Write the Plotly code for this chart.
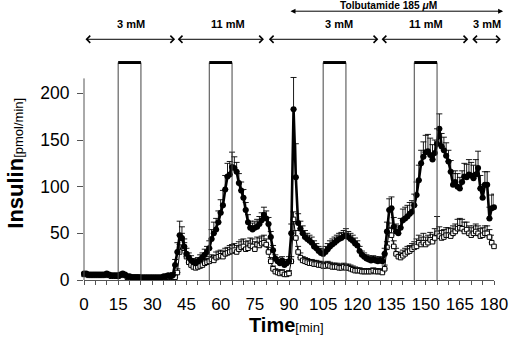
import plotly.graph_objects as go

# ---------------- data ----------------
time_min = list(range(0, 181))

filled_vals = [
    7, 7, 6, 6, 6, 6, 6, 6, 6, 6,
    7, 6, 5, 5, 5, 5, 6, 7, 6, 4,
    4, 3, 3, 3, 3, 3, 3, 3, 3, 3,
    3, 3, 3, 3, 3, 4, 4, 5, 4, 5,
    16, 30, 48, 45, 36, 28, 24, 21, 19, 18,
    20, 22, 24, 27, 30, 34, 44, 50, 54, 62,
    72, 80, 97, 111, 113, 121, 120, 116, 104, 96,
    88, 75, 62, 56, 54, 56, 57, 60, 64, 70,
    66, 60, 46, 32, 23, 20, 18, 21, 16, 18,
    20, 50, 183, 110, 61, 55, 50, 46, 44, 42,
    40, 36, 34, 31, 29, 28, 30, 33, 36, 38,
    40, 42, 44, 45, 47, 48, 46, 44, 42, 39,
    37, 31, 27, 25, 23, 22, 21, 22, 21, 20,
    21, 20, 28, 52, 75, 77, 57, 52, 50, 56,
    64, 66, 68, 71, 73, 80, 91, 107, 125, 132,
    137, 138, 134, 129, 136, 146, 162, 143, 139, 133,
    127, 116, 102, 105, 100, 98, 105, 111, 110, 113,
    112, 109, 113, 120, 98, 88, 102, 102, 66, 77,
    78,
]
filled_err = [
    1, 1, 1, 1, 1, 1, 1, 1, 1, 1,
    1, 1, 1, 1, 1, 1, 1, 1, 1, 1,
    1, 1, 1, 1, 1, 1, 1, 1, 1, 1,
    1, 1, 1, 1, 1, 1, 1, 2, 2, 3,
    6, 10, 15, 12, 8, 6, 5, 5, 4, 4,
    4, 5, 5, 6, 6, 8, 10, 12, 12, 12,
    14, 16, 15, 14, 14, 16, 12, 10, 10, 9,
    9, 8, 8, 7, 7, 7, 8, 8, 8, 8,
    8, 7, 6, 5, 4, 4, 4, 4, 4, 4,
    5, 10, 34, 36, 10, 8, 8, 7, 6, 6,
    6, 6, 5, 5, 5, 5, 6, 6, 6, 6,
    6, 6, 6, 6, 6, 7, 6, 6, 6, 6,
    5, 5, 4, 4, 4, 4, 4, 4, 4, 4,
    4, 4, 6, 10, 12, 12, 10, 8, 8, 10,
    12, 12, 12, 12, 12, 12, 14, 16, 14, 16,
    18, 18, 18, 16, 14, 16, 16, 14, 14, 14,
    12, 12, 12, 12, 14, 12, 12, 14, 14, 16,
    14, 14, 16, 18, 14, 14, 14, 14, 12, 14,
    14,
]
open_vals = [
    6, 6, 5, 5, 5, 5, 5, 5, 5, 5,
    6, 5, 4, 4, 4, 4, 5, 6, 5, 3,
    3, 3, 3, 3, 3, 2, 2, 2, 2, 2,
    2, 2, 2, 2, 2, 3, 3, 3, 3, 3,
    3, 8, 30, 40, 34, 25, 19, 16, 14, 13,
    14, 15, 16, 18, 19, 20, 22, 21, 24, 25,
    26, 25, 28, 29, 30, 31, 32, 30, 33, 35,
    36, 33, 34, 37, 36, 33, 38, 37, 39, 40,
    38, 30, 20, 12, 9, 8, 7, 8, 6, 6,
    7, 20, 65, 45, 30, 24, 21, 20, 19, 18,
    18, 17, 17, 16, 16, 15, 15, 16, 15, 14,
    14, 14, 13, 13, 14, 13, 13, 12, 11, 10,
    10, 10, 9, 9, 9, 9, 9, 10, 9, 9,
    9, 8, 12, 35, 53, 48, 36, 28, 25, 24,
    26, 28, 30, 31, 33, 35, 36, 40, 38, 40,
    38, 40, 43, 41, 45, 50, 47, 45, 46, 48,
    48, 47, 50, 52, 55, 56, 55, 52, 54, 50,
    48, 50, 52, 50, 47, 48, 50, 50, 46, 40,
    36,
]
open_err = [
    1, 1, 1, 1, 1, 1, 1, 1, 1, 1,
    1, 1, 1, 1, 1, 1, 1, 1, 1, 1,
    1, 1, 1, 1, 1, 1, 1, 1, 1, 1,
    1, 1, 1, 1, 1, 1, 1, 1, 1, 1,
    2, 4, 8, 10, 6, 4, 4, 3, 3, 3,
    3, 3, 4, 4, 4, 5, 5, 5, 6, 6,
    6, 6, 6, 6, 7, 7, 7, 7, 8, 8,
    8, 8, 8, 8, 8, 8, 8, 8, 8, 8,
    6, 5, 4, 3, 3, 3, 3, 3, 3, 3,
    3, 5, 8, 8, 6, 5, 4, 4, 4, 4,
    4, 4, 4, 4, 4, 4, 4, 4, 4, 4,
    4, 4, 4, 4, 4, 4, 4, 4, 4, 4,
    3, 3, 3, 3, 3, 3, 3, 3, 3, 3,
    3, 3, 4, 6, 8, 8, 6, 6, 5, 5,
    6, 6, 6, 6, 6, 6, 8, 8, 8, 10,
    8, 8, 8, 8, 10, 18, 10, 8, 8, 8,
    8, 8, 8, 8, 10, 10, 10, 10, 8, 8,
    8, 8, 8, 8, 8, 8, 8, 8, 8, 8,
    6,
]

# stimulation boxes (min) and their top (pmol/min)
box_starts = [15, 55, 105, 145]
box_ends = [25, 65, 115, 155]
box_top = 233

# glucose periods (min) and labels
period_starts = [0, 40.5, 80.5, 130, 169.8]
period_ends = [40, 79, 129.2, 168.7, 183]
period_labels = ["3 mM", "11 mM", "3 mM", "11 mM", "3 mM"]
period_label_x = [20.5, 63, 112, 150, 177]
tolb_start, tolb_end = 90, 184
tolb_label = "Tolbutamide 185 <i>μ</i>M"
tolb_label_x = 133.5

x_tickvals = list(range(0, 181, 5))
x_ticktext = [str(v) if v % 15 == 0 else "" for v in x_tickvals]
y_tickvals = [0, 50, 100, 150, 200]
y_axis_top = 216

X_MAX = 180
Y_MAX = 240
FONT = "Liberation Sans, Arial, sans-serif"

# ---------------- figure ----------------
fig = go.Figure()

fig.add_trace(go.Scatter(
    x=time_min, y=open_vals, mode="lines+markers",
    line=dict(color="black", width=1),
    marker=dict(symbol="square", size=4.5, color="white",
                line=dict(color="black", width=1)),
    error_y=dict(type="data", symmetric=False, array=open_err,
                 arrayminus=[0] * len(open_err), color="black",
                 thickness=0.9, width=3),
    cliponaxis=False, showlegend=False,
))
fig.add_trace(go.Scatter(
    x=time_min, y=filled_vals, mode="lines+markers",
    line=dict(color="black", width=2.6),
    marker=dict(symbol="circle", size=6, color="black"),
    error_y=dict(type="data", symmetric=False, array=filled_err,
                 arrayminus=[0] * len(filled_err), color="black",
                 thickness=0.9, width=3),
    cliponaxis=False, showlegend=False,
))

shapes = []
for s, e in zip(box_starts, box_ends):
    for xv in (s, e):
        shapes.append(dict(type="line", xref="x", yref="y", x0=xv, x1=xv,
                           y0=0, y1=box_top, line=dict(color="#444", width=1)))
    shapes.append(dict(type="line", xref="x", yref="y", x0=s, x1=e,
                       y0=box_top, y1=box_top, line=dict(color="black", width=3)))
# y axis line (stops below the top of the boxes)
shapes.append(dict(type="line", xref="paper", yref="y", x0=0, x1=0,
                   y0=0, y1=y_axis_top, line=dict(color="#555", width=1)))

annotations = []
arrow_y = 1.0746
for s, e, lab, lx in zip(period_starts, period_ends, period_labels, period_label_x):
    annotations.append(dict(
        xref="x domain", yref="y domain", axref="x domain", ayref="y domain",
        x=e / X_MAX, y=arrow_y, ax=s / X_MAX, ay=arrow_y, text="",
        showarrow=True, arrowhead=4, startarrowhead=4, arrowside="end+start",
        arrowsize=1.4, arrowwidth=1, arrowcolor="black", standoff=0, startstandoff=0,
    ))
    annotations.append(dict(
        xref="x domain", yref="y domain", x=lx / X_MAX, y=1.143, text=f"<b>{lab}</b>",
        xanchor="center", yanchor="middle",
        showarrow=False, font=dict(size=11, color="black", family=FONT),
    ))
annotations.append(dict(
    xref="x domain", yref="y domain", axref="x domain", ayref="y domain",
    x=tolb_end / X_MAX, y=1.2, ax=tolb_start / X_MAX, ay=1.2, text="",
    showarrow=True, arrowhead=2, startarrowhead=2, arrowside="end+start",
    arrowsize=1, arrowwidth=1, arrowcolor="black", standoff=0, startstandoff=0,
))
annotations.append(dict(
    xref="x domain", yref="y domain", x=tolb_label_x / X_MAX, y=1.226,
    text=f"<b>{tolb_label}</b>", xanchor="center", yanchor="middle",
    showarrow=False, font=dict(size=10.2, color="black", family=FONT),
))
# axis titles
annotations.append(dict(
    xref="paper", yref="paper", x=-0.1678, y=0.52, textangle=-90,
    text="<b>Insulin</b><span style='font-size:13px'>[pmol/min]</span>",
    showarrow=False, xanchor="center", yanchor="middle",
    font=dict(size=22, color="black", family=FONT),
))
annotations.append(dict(
    xref="paper", yref="paper", x=0.495, y=-0.2, xanchor="center", yanchor="middle",
    text="<b>Time</b><span style='font-size:13px'>[min]</span>",
    showarrow=False,
    font=dict(size=20, color="black", family=FONT),
))

fig.update_layout(
    width=520, height=343, autosize=False,
    margin=dict(l=84, r=14, t=56, b=63, pad=0),
    paper_bgcolor="white", plot_bgcolor="white",
    font=dict(family=FONT, color="black"),
    shapes=shapes, annotations=annotations,
    xaxis=dict(range=[0, X_MAX], tickvals=x_tickvals, ticktext=x_ticktext,
               ticks="outside", ticklen=4, tickcolor="#555", showline=True,
               linecolor="#555", linewidth=1, showgrid=False, zeroline=False,
               tickfont=dict(size=17), ticklabelstandoff=5,
               ticklabeloverflow="allow"),
    yaxis=dict(range=[0, Y_MAX], tickvals=y_tickvals, ticks="outside",
               ticklen=6, tickcolor="#555", showline=False, showgrid=False,
               zeroline=False, tickfont=dict(size=17.5), ticklabelstandoff=4,
               ticksuffix="\u00a0\u00a0"),
)

fig.write_html(
    "out.html",
    config={"responsive": False, "displayModeBar": False},
    post_script="document.body.style.margin='0px';",
)
